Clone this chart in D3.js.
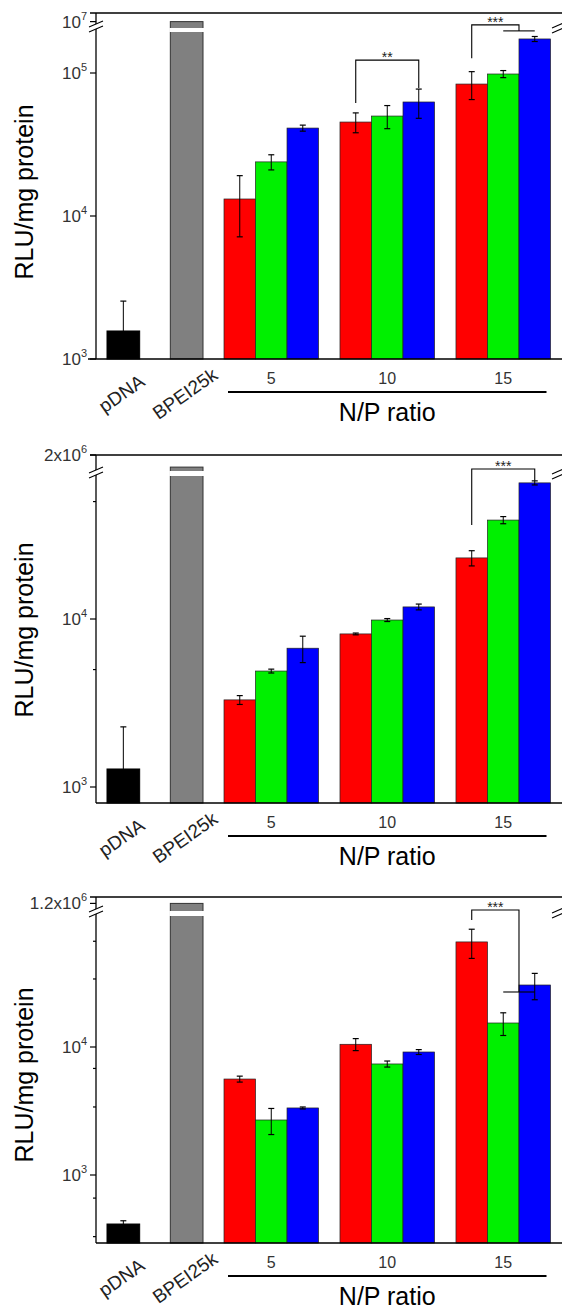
<!DOCTYPE html>
<html>
<head>
<meta charset="utf-8">
<script src="https://cdn.jsdelivr.net/npm/d3@7"></script>
<style>
  body { margin: 0; background: #fff; }
  svg { display: block; }
</style>
</head>
<body>
<div id="chart"></div>
<script>
// categories
const controls = ["pDNA", "BPEI25k"];
const ratios = ["5", "10", "15"];
const seriesNames = ["red", "green", "blue"];
const seriesColors = ["#ff0000", "#00f000", "#0000ff"];

// panel 1 (RLU/mg protein)
const p1Control = [1570, 1e7];
const p1ControlErr = [970, 0];
const p1Red = [13150, 45400, 83700];
const p1RedErr = [6000, 7200, 18500];
const p1Green = [23900, 50000, 98400];
const p1GreenErr = [2900, 9200, 5600];
const p1Blue = [41200, 62700, 173000];
const p1BlueErr = [2000, 14500, 7000];
const p1Ticks = [1e3, 1e4, 1e5];
const p1TickLabels = ["10^3", "10^4", "10^5"];
const p1MinorTicks = [];
const p1TopTick = 1e7;
const p1TopLabel = "10^7";

// panel 2
const p2Control = [1280, 1.74e6];
const p2ControlErr = [1000, 0];
const p2Red = [3300, 8150, 23100];
const p2RedErr = [200, 100, 2400];
const p2Green = [4900, 9860, 38800];
const p2GreenErr = [130, 200, 1900];
const p2Blue = [6700, 11800, 64600];
const p2BlueErr = [1200, 470, 1800];
const p2Ticks = [1e3, 1e4];
const p2TickLabels = ["10^3", "10^4"];
const p2MinorTicks = [5000, 50000];
const p2TopTick = 2e6;
const p2TopLabel = "2x10^6";

// panel 3
const p3Control = [414, 1.2e6];
const p3ControlErr = [25, 0];
const p3Red = [5620, 10500, 66200];
const p3RedErr = [300, 1130, 17000];
const p3Green = [2690, 7370, 15400];
const p3GreenErr = [620, 400, 3100];
const p3Blue = [3340, 9140, 30500];
const p3BlueErr = [60, 400, 7100];
const p3Ticks = [1e3, 1e4];
const p3TickLabels = ["10^3", "10^4"];
const p3MinorTicks = [330, 660, 3400, 6800, 34000, 67000];
const p3TopTick = 1.2e6;
const p3TopLabel = "1.2x10^6";

// significance brackets
const p1SigLabels = ["**", "***"];
const p1SigGroups = ["10", "15"];
const p1SigTargets = [["blue"], ["green", "blue"]];
const p1SigTop = [123000, 217000];
const p1SigLeftEnd = [61700, 127000];
const p1SigRightEnd = [78500, 197000];

const p2SigLabels = ["***"];
const p2SigGroups = ["15"];
const p2SigTargets = [["blue"]];
const p2SigTop = [78200];
const p2SigLeftEnd = [36300];
const p2SigRightEnd = [66500];

const p3SigLabels = ["***"];
const p3SigGroups = ["15"];
const p3SigTargets = [["green", "blue"]];
const p3SigTop = [117500];
const p3SigLeftEnd = [98200];
const p3SigRightEnd = [26900];

const width = 562;
const height = 1316;
const axisX = 96;
const rightX = 562;
const font = "'Liberation Sans', Arial, sans-serif";

const svg = d3.select("#chart").append("svg")
  .attr("width", width)
  .attr("height", height)
  .style("font-family", font);

const xCtrl = d3.scaleBand().domain(controls).range([107, 203]).paddingInner(0.484);
const xGroup = d3.scaleBand().domain(ratios).range([224, 550.5]).paddingInner(0.185);
const xSeries = d3.scaleBand().domain(seriesNames).range([0, xGroup.bandwidth()]);

function seriesX(r, s) { return xGroup(r) + xSeries(s); }
function seriesMid(r, s) { return seriesX(r, s) + xSeries.bandwidth() / 2; }

function powLabel(sel, label, x, y) {
  const parts = label.split("^");
  const t = sel.append("text")
    .attr("x", x).attr("y", y)
    .attr("text-anchor", "end")
    .attr("font-size", 17)
    .attr("fill", "#333");
  t.append("tspan").text(parts[0]);
  t.append("tspan").attr("dy", -8).attr("font-size", 11).text(parts[1]);
}

function breakMark(g, x, cy) {
  g.append("path")
    .attr("d", `M${x - 7},${cy + 1} L${x + 7},${cy - 5} L${x + 7},${cy} L${x - 7},${cy + 6} Z`)
    .attr("fill", "#fff");
  [0, 5].forEach(o => {
    g.append("line")
      .attr("x1", x - 7).attr("y1", cy + 1 + o)
      .attr("x2", x + 7).attr("y2", cy - 5 + o)
      .attr("stroke", "#000").attr("stroke-width", 1.1);
  });
}

function drawPanel(p) {
  const g = svg.append("g");
  const lower = d3.scaleLog().domain(p.lowerDomain).range(p.lowerRange);
  const upper = d3.scaleLog().domain(p.upperDomain).range(p.upperRange);
  const y = v => v >= p.upperDomain[0] ? upper(v) : lower(v);
  const base = p.axisY;

  const series = [
    { name: "red", vals: p.red, errs: p.redErr },
    { name: "green", vals: p.green, errs: p.greenErr },
    { name: "blue", vals: p.blue, errs: p.blueErr }
  ];

  // control bars
  const ctrlFill = ["#000", "#808080"];
  controls.forEach((c, i) => {
    g.append("rect")
      .attr("x", xCtrl(c)).attr("width", xCtrl.bandwidth())
      .attr("y", y(p.control[i])).attr("height", base - y(p.control[i]))
      .attr("fill", ctrlFill[i])
      .attr("stroke", i === 0 ? "#000" : "#333").attr("stroke-width", 1);
    if (p.controlErr[i] > 0) {
      const cx = xCtrl(c) + xCtrl.bandwidth() / 2;
      const yt = y(p.control[i] + p.controlErr[i]);
      g.append("line").attr("x1", cx).attr("x2", cx)
        .attr("y1", y(p.control[i])).attr("y2", yt)
        .attr("stroke", "#000").attr("stroke-width", 1);
      g.append("line").attr("x1", cx - 3).attr("x2", cx + 3)
        .attr("y1", yt).attr("y2", yt)
        .attr("stroke", "#000").attr("stroke-width", 1.2);
    }
  });
  // white stripe across the broken bar
  g.append("rect")
    .attr("x", xCtrl("BPEI25k") - 1).attr("width", xCtrl.bandwidth() + 2)
    .attr("y", p.stripe[0]).attr("height", p.stripe[1] - p.stripe[0])
    .attr("fill", "#fff");

  // grouped bars
  series.forEach((s, si) => {
    ratios.forEach((r, ri) => {
      const v = s.vals[ri];
      g.append("rect")
        .attr("x", seriesX(r, s.name)).attr("width", xSeries.bandwidth())
        .attr("y", y(v)).attr("height", base - y(v))
        .attr("fill", seriesColors[si])
        .attr("stroke", "#222").attr("stroke-width", 0.7);
    });
  });
  series.forEach(s => {
    ratios.forEach((r, ri) => {
      const v = s.vals[ri], e = s.errs[ri];
      const cx = seriesMid(r, s.name);
      const yt = y(v + e), yb = y(Math.max(v - e, 1));
      g.append("line").attr("x1", cx).attr("x2", cx).attr("y1", yt).attr("y2", yb)
        .attr("stroke", "#000").attr("stroke-width", 1);
      [yt, yb].forEach(yy => g.append("line")
        .attr("x1", cx - 3).attr("x2", cx + 3).attr("y1", yy).attr("y2", yy)
        .attr("stroke", "#000").attr("stroke-width", 1.2));
    });
  });

  // significance brackets
  p.sigLabels.forEach((lab, i) => {
    const grp = p.sigGroups[i];
    const lx = seriesMid(grp, "red");
    const targets = p.sigTargets[i];
    const t0 = seriesMid(grp, targets[0]);
    const t1 = seriesMid(grp, targets[targets.length - 1]);
    const rx = (t0 + t1) / 2;
    const yTop = y(p.sigTop[i]);
    const yL = y(p.sigLeftEnd[i]);
    const yR = y(p.sigRightEnd[i]);
    g.append("path")
      .attr("d", `M${lx},${yL} L${lx},${yTop} L${rx},${yTop} L${rx},${yR}`)
      .attr("fill", "none").attr("stroke", "#000").attr("stroke-width", 1.1);
    if (targets.length > 1) {
      g.append("line").attr("x1", t0).attr("x2", t1).attr("y1", yR).attr("y2", yR)
        .attr("stroke", "#000").attr("stroke-width", 1.1);
    }
    g.append("text")
      .attr("x", (lx + rx) / 2).attr("y", yTop + 2)
      .attr("text-anchor", "middle")
      .attr("font-size", 14).attr("fill", "#222")
      .text(lab);
  });

  // axes
  g.append("line").attr("x1", axisX).attr("x2", axisX)
    .attr("y1", p.frameTop).attr("y2", base)
    .attr("stroke", "#000").attr("stroke-width", 1.3);
  g.append("line").attr("x1", p.axisStart).attr("x2", rightX)
    .attr("y1", base).attr("y2", base)
    .attr("stroke", "#000").attr("stroke-width", 1.6);
  g.append("line").attr("x1", axisX - 6).attr("x2", rightX)
    .attr("y1", p.frameTop).attr("y2", p.frameTop)
    .attr("stroke", "#000").attr("stroke-width", 1.3);

  p.ticks.forEach((t, i) => {
    const yy = lower(t);
    g.append("line").attr("x1", axisX - 6).attr("x2", axisX)
      .attr("y1", yy).attr("y2", yy).attr("stroke", "#000").attr("stroke-width", 1.2);
    powLabel(g, p.tickLabels[i], axisX - 9, yy + 6);
  });
  p.minorTicks.forEach(t => {
    const yy = lower(t);
    g.append("line").attr("x1", axisX - 3).attr("x2", axisX)
      .attr("y1", yy).attr("y2", yy).attr("stroke", "#000").attr("stroke-width", 1.2);
  });
  const yTopTick = upper(p.topTick);
  g.append("line").attr("x1", axisX - 6).attr("x2", axisX)
    .attr("y1", yTopTick).attr("y2", yTopTick).attr("stroke", "#000").attr("stroke-width", 1.2);
  powLabel(g, p.topLabel, axisX - 9, yTopTick + 6);

  breakMark(g, axisX, p.breakY);
  breakMark(g, rightX - 3, p.breakY + 1);

  // y label
  g.append("text")
    .attr("transform", `translate(33,${p.labelY}) rotate(-90)`)
    .attr("text-anchor", "middle")
    .attr("font-size", 25)
    .attr("fill", "#000")
    .text("RLU/mg protein");

  // x labels
  controls.forEach(c => {
    const cx = xCtrl(c) + xCtrl.bandwidth() / 2;
    g.append("text")
      .attr("transform", `translate(${cx + 2},${base + 40}) rotate(-35)`)
      .attr("text-anchor", "middle")
      .attr("font-size", 19)
      .attr("fill", "#222")
      .text(c);
  });
  ratios.forEach(r => {
    g.append("text")
      .attr("x", seriesMid(r, "green")).attr("y", base + 25)
      .attr("text-anchor", "middle")
      .attr("font-size", 16).attr("fill", "#333")
      .text(r);
  });
  const [g0, g1] = xGroup.range();
  g.append("line").attr("x1", g0 + 4).attr("x2", g1 - 4)
    .attr("y1", base + 33).attr("y2", base + 33)
    .attr("stroke", "#000").attr("stroke-width", 2);
  g.append("text")
    .attr("x", (g0 + g1) / 2).attr("y", base + 62)
    .attr("text-anchor", "middle")
    .attr("font-size", 25).attr("fill", "#000")
    .text("N/P ratio");
}

drawPanel({
  control: p1Control, controlErr: p1ControlErr,
  red: p1Red, redErr: p1RedErr, green: p1Green, greenErr: p1GreenErr, blue: p1Blue, blueErr: p1BlueErr,
  ticks: p1Ticks, tickLabels: p1TickLabels, minorTicks: p1MinorTicks,
  topTick: p1TopTick, topLabel: p1TopLabel,
  sigLabels: p1SigLabels, sigGroups: p1SigGroups, sigTargets: p1SigTargets,
  sigTop: p1SigTop, sigLeftEnd: p1SigLeftEnd, sigRightEnd: p1SigRightEnd,
  lowerDomain: [1e3, 1e5], lowerRange: [359, 73],
  upperDomain: [4e6, 2e7], upperRange: [33, 13],
  frameTop: 13, axisY: 359, axisStart: 88, breakY: 26, stripe: [28, 32], labelY: 192
});

drawPanel({
  control: p2Control, controlErr: p2ControlErr,
  red: p2Red, redErr: p2RedErr, green: p2Green, greenErr: p2GreenErr, blue: p2Blue, blueErr: p2BlueErr,
  ticks: p2Ticks, tickLabels: p2TickLabels, minorTicks: p2MinorTicks,
  topTick: p2TopTick, topLabel: p2TopLabel,
  sigLabels: p2SigLabels, sigGroups: p2SigGroups, sigTargets: p2SigTargets,
  sigTop: p2SigTop, sigLeftEnd: p2SigLeftEnd, sigRightEnd: p2SigRightEnd,
  lowerDomain: [1e3, 1e4], lowerRange: [787, 619],
  upperDomain: [1.5e6, 2e6], upperRange: [480, 455],
  frameTop: 455, axisY: 803, axisStart: axisX, breakY: 472, stripe: [471, 476], labelY: 630
});

drawPanel({
  control: p3Control, controlErr: p3ControlErr,
  red: p3Red, redErr: p3RedErr, green: p3Green, greenErr: p3GreenErr, blue: p3Blue, blueErr: p3BlueErr,
  ticks: p3Ticks, tickLabels: p3TickLabels, minorTicks: p3MinorTicks,
  topTick: p3TopTick, topLabel: p3TopLabel,
  sigLabels: p3SigLabels, sigGroups: p3SigGroups, sigTargets: p3SigTargets,
  sigTop: p3SigTop, sigLeftEnd: p3SigLeftEnd, sigRightEnd: p3SigRightEnd,
  lowerDomain: [1e3, 1e4], lowerRange: [1175, 1047],
  upperDomain: [1e6, 1.3e6], upperRange: [918, 897],
  frameTop: 897, axisY: 1243, axisStart: axisX, breakY: 911, stripe: [911, 916], labelY: 1075
});
</script>
</body>
</html>
